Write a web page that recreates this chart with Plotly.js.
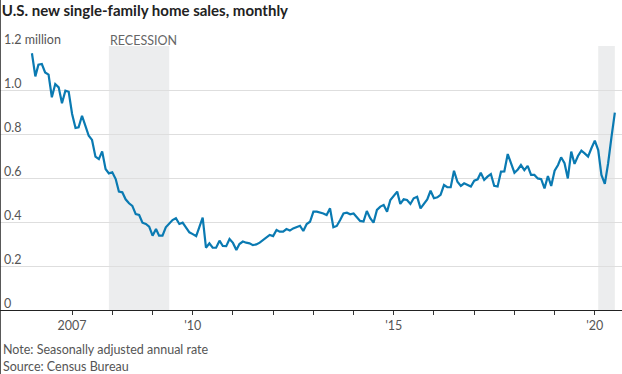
<!DOCTYPE html>
<html>
<head>
<meta charset="utf-8">
<script src="https://cdn.plot.ly/plotly-3.0.1.min.js"></script>
<style>
  html, body { margin: 0; padding: 0; background: #fff; }
  #chart { width: 622px; height: 374px; }
</style>
</head>
<body>
<div id="chart"></div>
<script>
// Monthly new single-family home sales, SAAR, millions
const startYear = 2006;
const sales2006 = [1.167, 1.062, 1.115, 1.118, 1.080, 1.070, 0.967, 1.027, 1.012, 0.940, 0.997, 0.992];
const sales2007 = [0.891, 0.827, 0.830, 0.883, 0.838, 0.792, 0.773, 0.697, 0.686, 0.721, 0.641, 0.621];
const sales2008 = [0.626, 0.595, 0.538, 0.535, 0.503, 0.485, 0.473, 0.436, 0.432, 0.397, 0.391, 0.379];
const sales2009 = [0.338, 0.368, 0.338, 0.338, 0.376, 0.394, 0.409, 0.417, 0.391, 0.397, 0.376, 0.353];
const sales2010 = [0.345, 0.336, 0.376, 0.420, 0.283, 0.303, 0.283, 0.283, 0.315, 0.291, 0.290, 0.323];
const sales2011 = [0.305, 0.273, 0.300, 0.311, 0.306, 0.303, 0.295, 0.298, 0.306, 0.318, 0.330, 0.341];
const sales2012 = [0.336, 0.364, 0.356, 0.356, 0.368, 0.361, 0.371, 0.376, 0.383, 0.359, 0.391, 0.401];
const sales2013 = [0.447, 0.447, 0.444, 0.439, 0.432, 0.462, 0.376, 0.382, 0.409, 0.439, 0.442, 0.435];
const sales2014 = [0.439, 0.420, 0.405, 0.402, 0.450, 0.417, 0.397, 0.455, 0.470, 0.477, 0.447, 0.500];
const sales2015 = [0.518, 0.538, 0.482, 0.503, 0.500, 0.482, 0.508, 0.515, 0.462, 0.485, 0.503, 0.542];
const sales2016 = [0.508, 0.512, 0.523, 0.568, 0.558, 0.558, 0.633, 0.583, 0.564, 0.576, 0.568, 0.561];
const sales2017 = [0.588, 0.594, 0.624, 0.591, 0.606, 0.618, 0.564, 0.561, 0.629, 0.630, 0.709, 0.667];
const sales2018 = [0.624, 0.639, 0.659, 0.636, 0.655, 0.614, 0.614, 0.598, 0.595, 0.553, 0.609, 0.564];
const sales2019 = [0.633, 0.659, 0.694, 0.667, 0.598, 0.720, 0.664, 0.700, 0.724, 0.712, 0.697, 0.735];
const sales2020 = [0.770, 0.727, 0.614, 0.573, 0.667, 0.788, 0.897];

const salesByYear = [sales2006, sales2007, sales2008, sales2009, sales2010, sales2011, sales2012,
                     sales2013, sales2014, sales2015, sales2016, sales2017, sales2018, sales2019, sales2020];

// Recession periods
const recessionStart = ['2007-12-01', '2020-02-01'];
const recessionEnd   = ['2009-06-01', '2020-07-01'];

// Axis ticks
const yTickVals   = [0, 0.2, 0.4, 0.6, 0.8, 1.0, 1.2];
const yTickLabels = ['0', '0.2', '0.4', '0.6', '0.8', '1.0', '1.2 million'];
const xTickVals   = ['2007-01-01','2008-01-01','2009-01-01','2010-01-01','2011-01-01','2012-01-01','2013-01-01',
                     '2014-01-01','2015-01-01','2016-01-01','2017-01-01','2018-01-01','2019-01-01','2020-01-01'];
const xTickLabels = ['2007','','',"'10",'','','','',"'15",'','','','',"'20"];

const titleText = 'U.S. new single-family home sales, monthly';
const noteText = 'Note: Seasonally adjusted annual rate';
const sourceText = 'Source: Census Bureau';
const recessionLabel = 'RECESSION';

// build x/y
const dates = [], values = [];
salesByYear.forEach((arr, i) => {
  arr.forEach((v, m) => {
    const mm = String(m + 1).padStart(2, '0');
    dates.push((startYear + i) + '-' + mm + '-01');
    values.push(v);
  });
});

const FONT = 'Lato, "DejaVu Sans Condensed", sans-serif';
const plotTop = 46, plotBottom = 310, H = 374;
const ph = plotBottom - plotTop;
const pyToPaper = py => (plotBottom - py) / ph;

const shapes = recessionStart.map((s, i) => ({
  type: 'rect', xref: 'x', yref: 'y', x0: s, x1: recessionEnd[i], y0: 0, y1: 1.2,
  fillcolor: '#ecedee', line: { width: 0 }, layer: 'below'
}));
// thin dark border on the left edge
shapes.push({ type: 'line', xref: 'paper', yref: 'paper', x0: 0, x1: 0,
  y0: pyToPaper(H), y1: pyToPaper(0), line: { color: '#222', width: 1.5 } });

const annotations = yTickVals.map((v, i) => ({
  xref: 'paper', yref: 'y', x: 0.004, y: v, xanchor: 'left', yanchor: 'bottom',
  text: yTickLabels[i], showarrow: false, yshift: -3,
  font: { family: FONT, size: 12.5, color: '#555' }
}));
annotations.push({
  xref: 'x', yref: 'paper', x: recessionStart[0], y: pyToPaper(40), xanchor: 'left', yanchor: 'middle',
  text: recessionLabel, showarrow: false, xshift: -1,
  font: { family: FONT, size: 12.5, color: '#666' }
});
annotations.push({
  xref: 'paper', yref: 'paper', x: 0.002, y: pyToPaper(349), xanchor: 'left', yanchor: 'middle',
  text: noteText, showarrow: false, font: { family: FONT, size: 12.5, color: '#555' }
});
annotations.push({
  xref: 'paper', yref: 'paper', x: 0.002, y: pyToPaper(366), xanchor: 'left', yanchor: 'middle',
  text: sourceText, showarrow: false, font: { family: FONT, size: 12.5, color: '#555' }
});

const trace = {
  x: dates, y: values, type: 'scatter', mode: 'lines',
  line: { color: '#0a7ab2', width: 2.2 }, hoverinfo: 'skip'
};

const layout = {
  width: 622, height: 374,
  margin: { l: 0, r: 0, t: plotTop, b: H - plotBottom },
  paper_bgcolor: '#fff', plot_bgcolor: '#fff',
  showlegend: false,
  title: {
    text: '<b>' + titleText + '</b>', x: 0.003, xanchor: 'left', xref: 'paper',
    y: 1 - 11 / H, yanchor: 'middle', yref: 'container',
    font: { family: FONT, size: 15, color: '#222' }
  },
  xaxis: {
    type: 'date', range: ['2005-03-17', '2020-09-04'],
    tickmode: 'array', tickvals: xTickVals, ticktext: xTickLabels,
    ticks: 'outside', ticklen: 4, tickcolor: '#333', tickwidth: 1,
    showline: true, linecolor: '#222', linewidth: 1.2,
    showgrid: false, zeroline: false,
    tickfont: { family: FONT, size: 12.5, color: '#555' }
  },
  yaxis: {
    range: [0, 1.2], tickmode: 'array', tickvals: yTickVals,
    showticklabels: false, ticks: '', showgrid: true, gridcolor: '#dedede', gridwidth: 1,
    zeroline: false, showline: false, fixedrange: true
  },
  shapes: shapes,
  annotations: annotations
};

Plotly.newPlot('chart', [trace], layout, { displayModeBar: false, staticPlot: true });
</script>
</body>
</html>
